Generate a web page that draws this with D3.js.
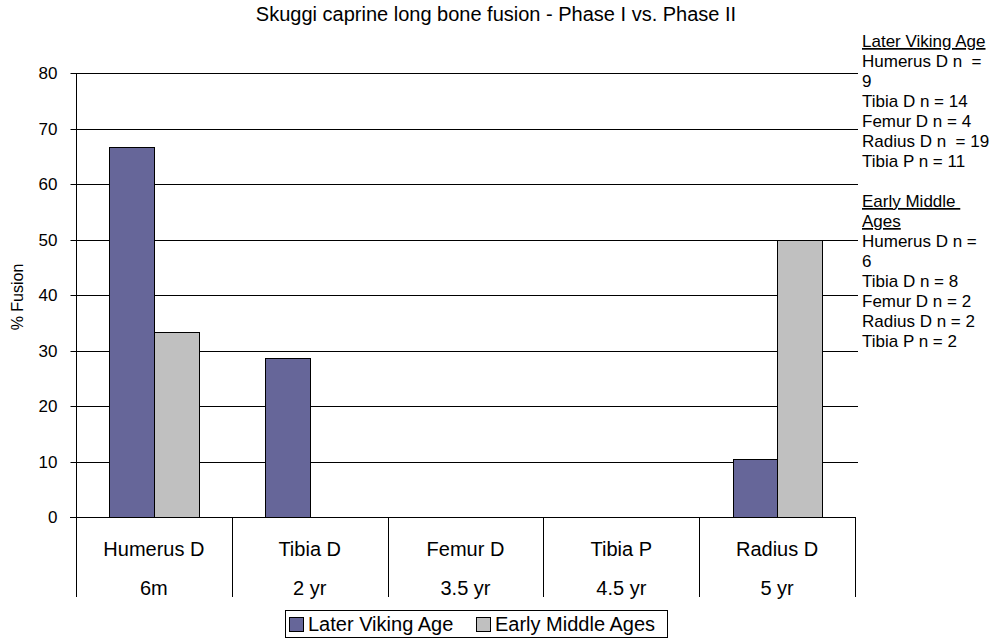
<!DOCTYPE html>
<html><head><meta charset="utf-8">
<script src="https://cdn.jsdelivr.net/npm/d3@7"></script>
<style>body{margin:0;background:#fff}svg{display:block}text{font-family:Arial,"Liberation Sans",sans-serif;fill:#000}</style>
</head><body><svg id="c" width="995" height="640"></svg>
<script>
const categories = ["Humerus D","Tibia D","Femur D","Tibia P","Radius D"];
const ages = ["6m","2 yr","3.5 yr","4.5 yr","5 yr"];
const seriesNames = ["Later Viking Age","Early Middle Ages"];
const lateViking = [66.7, 28.6, 0, 0, 10.5];
const earlyMiddle = [33.3, 0, 0, 0, 50];
const yTicks = [0,10,20,30,40,50,60,70,80];
const colors = ["#666699","#C0C0C0"];
const noteLines = [
  {t:"Later Viking Age",u:true},{t:"Humerus D n  ="},{t:"9"},{t:"Tibia D n = 14"},{t:"Femur D n = 4"},
  {t:"Radius D n  = 19"},{t:"Tibia P n = 11"},{t:""},{t:"Early Middle ",u:true},{t:"Ages",u:true},
  {t:"Humerus D n ="},{t:"6"},{t:"Tibia D n = 8"},{t:"Femur D n = 2"},{t:"Radius D n = 2"},{t:"Tibia P n = 2"}
];

const FONT = "Arial, 'Liberation Sans', sans-serif";
const svg = d3.select("#c");
const L=76,R=855,T=73,B=517;
const x = d3.scaleBand().domain(categories).range([L,R]).paddingInner(0).paddingOuter(0);
const y = d3.scaleLinear().domain([0,80]).range([B,T]);
const inner = d3.scaleBand().domain(seriesNames).range([0,x.bandwidth()]).paddingInner(0).paddingOuter(0.75);

// title
svg.append("text").attr("x",496).attr("y",21).attr("text-anchor","middle").style("font-size","20px")
  .text("Skuggi caprine long bone fusion - Phase I vs. Phase II");

// gridlines
svg.append("g").selectAll("line").data(yTicks.filter(d=>d>0)).join("line")
  .attr("x1",L).attr("x2",R+3).attr("y1",d=>Math.round(y(d))+0.5).attr("y2",d=>Math.round(y(d))+0.5)
  .attr("stroke","#000").attr("stroke-width",1);

// y axis
const ya = svg.append("g").attr("transform",`translate(${L+0.5},0)`)
  .call(d3.axisLeft(y).tickValues(yTicks).tickSize(6).tickPadding(13).tickFormat(d3.format("d")));
ya.select(".domain").attr("stroke","#000").attr("d",`M0,${T}V${B}`);
ya.selectAll(".tick line").attr("stroke","#000");
ya.selectAll(".tick").attr("transform",d=>`translate(0,${Math.round(y(d))+0.5})`);
ya.selectAll("text").style("font-size","17px").style("font-family",FONT).attr("fill","#000");

svg.append("text").attr("transform","translate(23,297) rotate(-90)").attr("text-anchor","middle")
  .style("font-size","16px").text("% Fusion");

// bars
const data = categories.map((c,i)=>({c, vals:[lateViking[i], earlyMiddle[i]]}));
const g = svg.append("g");
data.forEach(d=>{
  d.vals.forEach((v,j)=>{
    if(v<=0) return;
    g.append("rect")
      .attr("x",Math.round(x(d.c)+inner(seriesNames[j]))+0.5)
      .attr("y",Math.round(y(v))+0.5)
      .attr("width",Math.round(inner.bandwidth()))
      .attr("height",Math.round(y(0))-Math.round(y(v)))
      .attr("fill",colors[j]).attr("stroke","#000").attr("stroke-width",1);
  });
});

// category axis
svg.append("line").attr("x1",L-6).attr("x2",R).attr("y1",B+0.5).attr("y2",B+0.5).attr("stroke","#000");
const bounds = categories.map(c=>x(c)).concat([R]);
svg.append("g").selectAll("line").data(bounds).join("line")
  .attr("x1",d=>Math.round(d)+0.5).attr("x2",d=>Math.round(d)+0.5).attr("y1",B).attr("y2",597).attr("stroke","#000");
svg.append("g").selectAll("text").data(categories).join("text")
  .attr("x",d=>x(d)+x.bandwidth()/2).attr("y",556).attr("text-anchor","middle").style("font-size","20px").text(d=>d);
svg.append("g").selectAll("text").data(ages).join("text")
  .attr("x",(d,i)=>x(categories[i])+x.bandwidth()/2).attr("y",595).attr("text-anchor","middle").style("font-size","20px").text(d=>d);

// legend
const lg = svg.append("g");
lg.append("rect").attr("x",285.5).attr("y",610.5).attr("width",382).attr("height",27).attr("fill","#fff").attr("stroke","#000");
const items=[{x:289,n:0},{x:476,n:1}];
items.forEach(it=>{
  lg.append("rect").attr("x",it.x+0.5).attr("y",617.5).attr("width",14).attr("height",14).attr("fill",colors[it.n]).attr("stroke","#000");
  lg.append("text").attr("x",it.x+19).attr("y",631).style("font-size","20px").text(seriesNames[it.n]);
});

// notes
const ng = svg.append("g");
noteLines.forEach((d,i)=>{
  if(!d.t) return;
  const t = ng.append("text").attr("x",862).attr("y",47+i*20).style("font-size","17px").style("white-space","pre").text(d.t);
  if(d.u) t.style("text-decoration","underline");
});
</script></body></html>
